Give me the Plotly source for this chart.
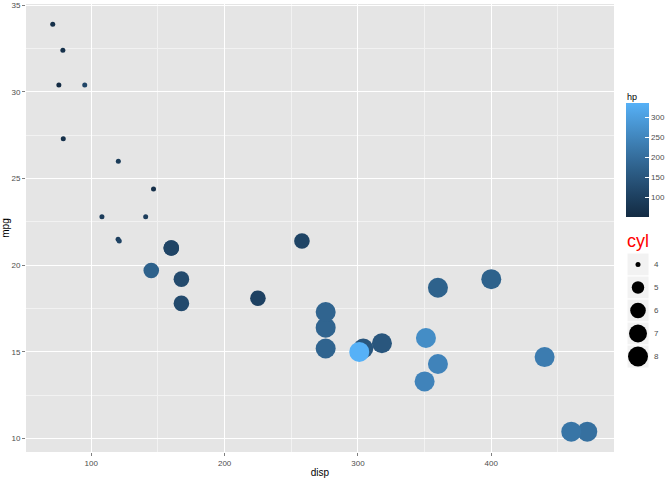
import numpy as np
import plotly.graph_objects as go

# mtcars
disp = [160, 160, 108, 258, 360, 225, 360, 146.7, 140.8, 167.6, 167.6, 275.8, 275.8, 275.8,
        472, 460, 440, 78.7, 75.7, 71.1, 120.1, 318, 304, 350, 400, 79, 120.3, 95.1, 351,
        145, 301, 121]
mpg = [21.0, 21.0, 22.8, 21.4, 18.7, 18.1, 14.3, 24.4, 22.8, 19.2, 17.8, 16.4, 17.3, 15.2,
       10.4, 10.4, 14.7, 32.4, 30.4, 33.9, 21.5, 15.5, 15.2, 13.3, 19.2, 27.3, 26.0, 30.4,
       15.8, 19.7, 15.0, 21.4]
cyl = [6, 6, 4, 6, 8, 6, 8, 4, 4, 6, 6, 8, 8, 8, 8, 8, 8, 4, 4, 4, 4, 8, 8, 8, 8, 4, 4, 4,
       8, 6, 8, 4]
hp = [110, 110, 93, 110, 175, 105, 245, 62, 95, 123, 123, 180, 180, 180, 205, 215, 230, 66,
      52, 65, 97, 150, 150, 245, 175, 66, 91, 113, 264, 175, 335, 109]
cyl_breaks = [4, 5, 6, 7, 8]
hp_ticks = [100, 150, 200, 250, 300]


# --- ggplot-like scales ---
def srgb_to_lab(hexc):
    c = np.array([int(hexc[i:i + 2], 16) for i in (1, 3, 5)]) / 255.0
    c = np.where(c > 0.04045, ((c + 0.055) / 1.055) ** 2.4, c / 12.92)
    M = np.array([[0.4124, 0.3576, 0.1805], [0.2126, 0.7152, 0.0722], [0.0193, 0.1192, 0.9505]])
    xyz = M @ c / np.array([0.95047, 1.0, 1.08883])
    f = np.where(xyz > 0.008856, np.cbrt(xyz), 7.787 * xyz + 16 / 116)
    return np.array([116 * f[1] - 16, 500 * (f[0] - f[1]), 200 * (f[1] - f[2])])


def lab_to_hex(lab):
    L, a, b = lab
    fy = (L + 16) / 116
    fx = fy + a / 500
    fz = fy - b / 200
    f = np.array([fx, fy, fz])
    xyz = np.where(f ** 3 > 0.008856, f ** 3, (f - 16 / 116) / 7.787) * np.array([0.95047, 1.0, 1.08883])
    Mi = np.array([[3.2406, -1.5372, -0.4986], [-0.9689, 1.8758, 0.0415], [0.0557, -0.2040, 1.0570]])
    c = Mi @ xyz
    c = np.where(c > 0.0031308, 1.055 * np.clip(c, 0, None) ** (1 / 2.4) - 0.055, 12.92 * c)
    c = np.clip(np.round(c * 255), 0, 255).astype(int)
    return "#%02x%02x%02x" % tuple(c)


lo, hi = srgb_to_lab("#132B43"), srgb_to_lab("#56B1F7")
colorscale = [[t, lab_to_hex(lo + (hi - lo) * t)] for t in np.linspace(0, 1, 11)]


def size_px(c):
    s = 1 + 5 * np.sqrt((c - min(cyl)) / (max(cyl) - min(cyl)))
    return 2 + 3 * s


W, H = 672, 480
ml, mr, mt, mb = 26, 0, 4, 28
pw, ph = W - ml - mr, H - mt - mb


def px_x(p):
    return (p - ml) / pw


def px_y(p):
    return (H - mb - p) / ph


fig = go.Figure()
fig.add_trace(go.Scatter(
    x=disp, y=mpg, mode="markers",
    marker=dict(size=[size_px(c) for c in cyl], color=hp, colorscale=colorscale,
                cmin=min(hp), cmax=max(hp), opacity=1, line=dict(width=0),
                colorbar=dict(
                    x=px_x(626), xanchor="left", xpad=0, ypad=0,
                    y=px_y(160), yanchor="middle", len=114, lenmode="pixels",
                    thickness=23, thicknessmode="pixels", outlinewidth=0,
                    tickvals=hp_ticks, ticks="inside", ticklen=4, tickcolor="white",
                    tickwidth=1, tickfont=dict(size=8, color="#4D4D4D", family="Liberation Sans"),
                    title=dict(text=""),
                )),
    showlegend=False, hoverinfo="skip",
))

# size legend (cyl)
key_top, key_h = 253, 23
fig.add_trace(go.Scatter(
    x=[0] * len(cyl_breaks), y=list(range(len(cyl_breaks))), mode="markers",
    marker=dict(size=[size_px(c) for c in cyl_breaks], color="black", opacity=1, line=dict(width=0)),
    xaxis="x2", yaxis="y2", showlegend=False, hoverinfo="skip",
))
shapes = []
for i in range(len(cyl_breaks)):
    shapes.append(dict(type="rect", xref="x2", yref="y2", x0=-0.5, x1=0.5, y0=i - 0.5, y1=i + 0.5,
                       fillcolor="#F2F2F2", line=dict(color="white", width=1), layer="below"))

annotations = [
    dict(text="hp", x=px_x(625), y=px_y(97), xref="paper", yref="paper", xanchor="left",
         yanchor="middle", showarrow=False, font=dict(size=9, color="black", family="Liberation Sans")),
    dict(text="cyl", x=px_x(625), y=px_y(241), xref="paper", yref="paper", xanchor="left",
         yanchor="middle", showarrow=False, font=dict(size=18, color="red", family="Liberation Sans")),
]
for i, c in enumerate(cyl_breaks):
    annotations.append(dict(text=str(c), x=px_x(652), y=px_y(key_top + key_h * (i + 0.5)),
                            xref="paper", yref="paper", xanchor="left", yanchor="middle",
                            showarrow=False, font=dict(size=8, color="#4D4D4D", family="Liberation Sans")))

fig.update_layout(
    width=W, height=H,
    margin=dict(l=ml, r=mr, t=mt, b=mb, autoexpand=False),
    paper_bgcolor="white", plot_bgcolor="#E5E5E5",
    font=dict(family="Liberation Sans"),
    xaxis=dict(domain=[0, px_x(614)], range=[51.05, 492.05], tickvals=[100, 200, 300, 400],
               showgrid=True, gridcolor="white", gridwidth=1.1, zeroline=False,
               minor=dict(dtick=50, tick0=50, showgrid=True, gridcolor="#F2F2F2", gridwidth=0.5),
               ticks="outside", ticklen=3, tickcolor="#7F7F7F",
               tickfont=dict(size=8, color="#4D4D4D"),
               title=dict(text="disp", font=dict(size=10, color="black"), standoff=2)),
    yaxis=dict(range=[9.225, 35.075], tickvals=[10, 15, 20, 25, 30, 35],
               showgrid=True, gridcolor="white", gridwidth=1.1, zeroline=False,
               minor=dict(dtick=2.5, tick0=0, showgrid=True, gridcolor="#F2F2F2", gridwidth=0.5),
               ticks="outside", ticklen=3, tickcolor="#7F7F7F",
               tickfont=dict(size=8, color="#4D4D4D"),
               title=dict(text="mpg", font=dict(size=10, color="black"), standoff=5)),
    xaxis2=dict(domain=[px_x(627), px_x(649)], range=[-0.5, 0.5], visible=False, fixedrange=True),
    yaxis2=dict(domain=[px_y(key_top + key_h * len(cyl_breaks)), px_y(key_top)],
                range=[len(cyl_breaks) - 0.5, -0.5], visible=False, anchor="x2", fixedrange=True),
    shapes=shapes, annotations=annotations,
)

fig.write_html("out.html", config={"displayModeBar": False},
               post_script="document.body.style.margin='0';document.body.style.padding='0';")
